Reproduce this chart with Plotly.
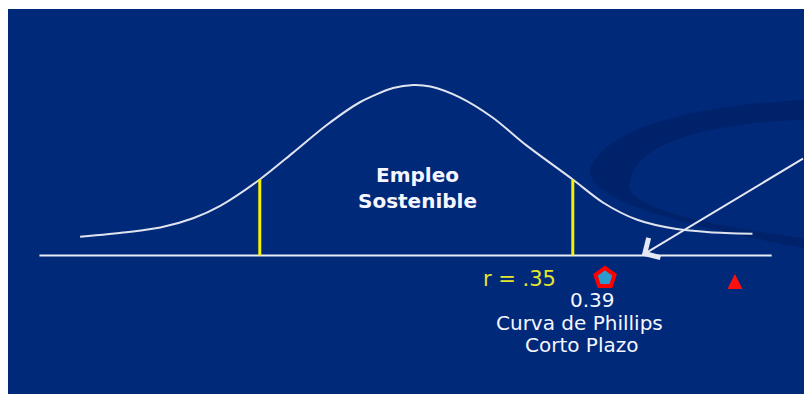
import plotly.graph_objects as go

# bell curve (z units, relative height)
curve_x = [-2.99, -2.58, -2.28, -1.99, -1.75, -1.40, -1.11, -0.81, -0.51, -0.22, -0.04,
           0.11, 0.37, 0.66, 0.96, 1.37, 1.64, 1.94, 2.29, 2.58, 2.96]
curve_y = [0.02, 0.05, 0.08, 0.14, 0.22, 0.39, 0.56, 0.74, 0.89, 0.98, 1.00,
           0.99, 0.92, 0.79, 0.61, 0.39, 0.24, 0.13, 0.07, 0.05, 0.04]

# horizontal axis line
axis_x = [-3.35, 3.13]
axis_level = -0.10

# limits of "Empleo Sostenible"
bounds_x = [-1.40, 1.37]
bounds_top = 0.39

# markers under the axis
house_x, house_y = [1.655], [-0.245]
spark_x, spark_y = [2.805], [-0.22]

# arrow from the upper right down to the axis
arrow_tail = (3.42, 0.53)
arrow_head = (1.98, -0.10)

center_text = ("Empleo<br>Sostenible", 0.0, 0.335)
labels = [
    ("0.39", 1.54, -0.39),
    ("Curva de Phillips", 1.425, -0.535),
    ("Corto Plazo", 1.45, -0.68),
]
r_text = ("r = .35", 0.90, -0.252)

BG = "#00297a"
DARK = "#00226a"
X_RANGE = [-3.628, 3.416]
Y_RANGE = [-0.994, 1.490]
FIG_W, FIG_H = 804, 394
LEFT, TOP = 8, 9

fig = go.Figure()

fig.add_trace(go.Scatter(x=curve_x, y=curve_y, mode="lines",
                         line=dict(color="#dfe4ee", width=2, shape="spline", smoothing=0.8),
                         hoverinfo="skip"))
fig.add_trace(go.Scatter(x=axis_x, y=[axis_level] * 2, mode="lines",
                         line=dict(color="#e8ecf4", width=2), hoverinfo="skip"))
for bx in bounds_x:
    fig.add_trace(go.Scatter(x=[bx, bx], y=[axis_level, bounds_top], mode="lines",
                             line=dict(color="#f2f200", width=3), hoverinfo="skip"))

fig.add_trace(go.Scatter(x=house_x, y=house_y, mode="markers",
                         marker=dict(symbol="pentagon", size=20, color="#2a9ccf",
                                     line=dict(color="#ff0000", width=4))))
fig.add_trace(go.Scatter(x=spark_x, y=spark_y, mode="markers",
                         marker=dict(symbol="arrow-up", size=15, color="#ff1010",
                                     line=dict(width=0))))


# decorative dark swoosh, window pixel points converted to paper coords
def px(x, y):
    return f"{(x - LEFT) / (FIG_W - LEFT):.4f},{(FIG_H - y) / (FIG_H - TOP):.4f}"


swoosh = ("M " + px(804, 100) + " C " + px(700, 105) + " " + px(610, 125) + " " + px(590, 168)
          + " C " + px(585, 200) + " " + px(680, 225) + " " + px(804, 248)
          + " L " + px(804, 238)
          + " C " + px(700, 225) + " " + px(620, 205) + " " + px(630, 182)
          + " C " + px(635, 140) + " " + px(720, 122) + " " + px(804, 120) + " Z")
fig.add_shape(type="path", path=swoosh, xref="paper", yref="paper",
              fillcolor=DARK, line=dict(width=0), layer="below")

fig.add_annotation(x=center_text[1], y=center_text[2], text=center_text[0], showarrow=False,
                   font=dict(family="DejaVu Sans", size=20, color="#f6f6ff", weight="bold"))
for text, x, y in labels:
    fig.add_annotation(x=x, y=y, text=text, showarrow=False,
                       font=dict(family="DejaVu Sans", size=20, color="#f6f6ff"))
fig.add_annotation(x=r_text[1], y=r_text[2], text=r_text[0], showarrow=False,
                   font=dict(family="DejaVu Sans", size=21, color="#e6e62a"))

fig.add_annotation(x=arrow_head[0], y=arrow_head[1], ax=arrow_tail[0], ay=arrow_tail[1],
                   xref="x", yref="y", axref="x", ayref="y", text="",
                   showarrow=True, arrowhead=4, arrowsize=2.2, arrowwidth=2,
                   arrowcolor="#e4e8f2")

fig.update_xaxes(range=X_RANGE, visible=False, fixedrange=True)
fig.update_yaxes(range=Y_RANGE, visible=False, fixedrange=True)
fig.update_layout(width=FIG_W, height=FIG_H, showlegend=False,
                  margin=dict(l=LEFT, r=0, t=TOP, b=0),
                  paper_bgcolor="white", plot_bgcolor=BG)

# drop the default page margin so the figure fills the window exactly
fig.write_html("out.html", config={"displayModeBar": False},
               post_script="document.body.style.margin='0';document.body.style.overflow='hidden';")
